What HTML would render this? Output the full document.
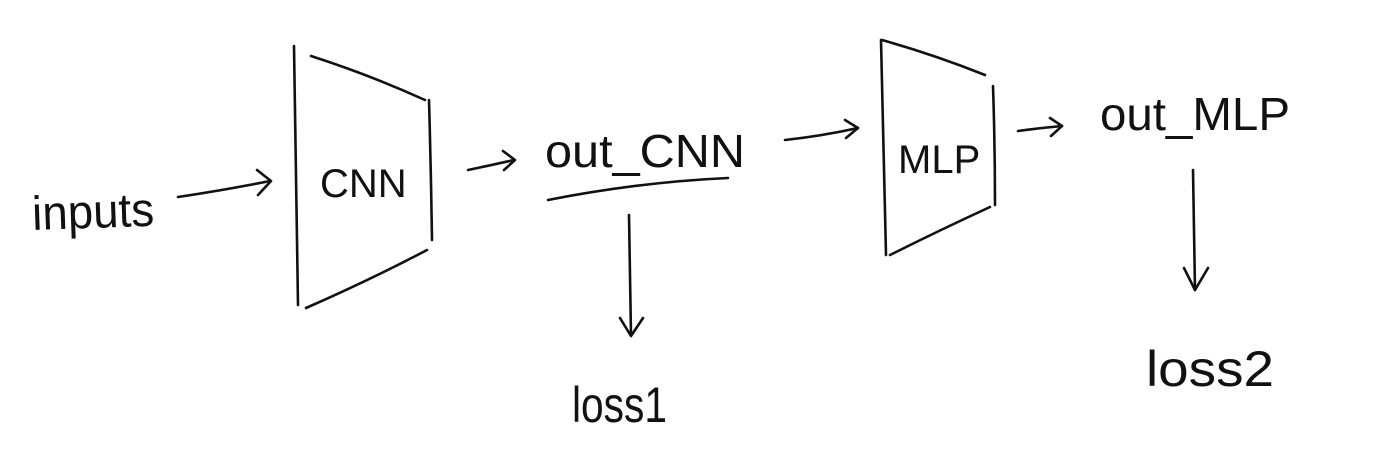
<!DOCTYPE html>
<html><head><meta charset="utf-8"><style>
html,body{margin:0;padding:0;background:#fff;}
svg{display:block;}
text{font-family:"Liberation Sans",sans-serif;fill:#111;}
</style></head><body>
<svg width="1380" height="450" viewBox="0 0 1380 450" xmlns="http://www.w3.org/2000/svg">
<g stroke="#111" stroke-width="2.6" fill="none" stroke-linecap="round" stroke-linejoin="round">
<path d="M178 197 Q225 190 270 181"/>
<path d="M257 170 L271 181 L258 195"/>
<path d="M294 46 Q296 180 298 305"/>
<path d="M311 56 Q370 75 425 100"/>
<path d="M429 100 Q431 170 432 240"/>
<path d="M306 308 Q370 280 427 250"/>
<path d="M468 170 Q492 165 514 160"/>
<path d="M503 151 L515 160 L504 170"/>
<path d="M548 200 Q640 182 728 178"/>
<path d="M629 215 Q630 275 631 335"/>
<path d="M620 318 L631 336 L643 318"/>
<path d="M785 140 Q822 136 858 128"/>
<path d="M845 120 L858 128 L846 138"/>
<path d="M881 40 Q884 150 886 255"/>
<path d="M882 40 Q935 55 985 75"/>
<path d="M993 86 Q995 145 995 205"/>
<path d="M890 255 Q940 230 990 207"/>
<path d="M1018 131 Q1040 128 1062 126"/>
<path d="M1050 118 L1062 126 L1051 136"/>
<path d="M1193 170 Q1194 230 1195 290"/>
<path d="M1184 268 L1195 290 L1208 268"/>
</g>
<text x="32" y="228" font-size="48" textLength="122" lengthAdjust="spacingAndGlyphs" transform="rotate(-2 90 210)">inputs</text>
<text x="320" y="197" font-size="40">CNN</text>
<text x="545" y="167" font-size="46" textLength="200" lengthAdjust="spacingAndGlyphs">out_CNN</text>
<text x="898" y="173" font-size="40">MLP</text>
<text x="1100" y="130" font-size="46" textLength="190" lengthAdjust="spacingAndGlyphs">out_MLP</text>
<text x="572" y="422" font-size="50" textLength="95" lengthAdjust="spacingAndGlyphs">loss1</text>
<text x="1146" y="386" font-size="50" textLength="128" lengthAdjust="spacingAndGlyphs">loss2</text>
</svg>
</body></html>
